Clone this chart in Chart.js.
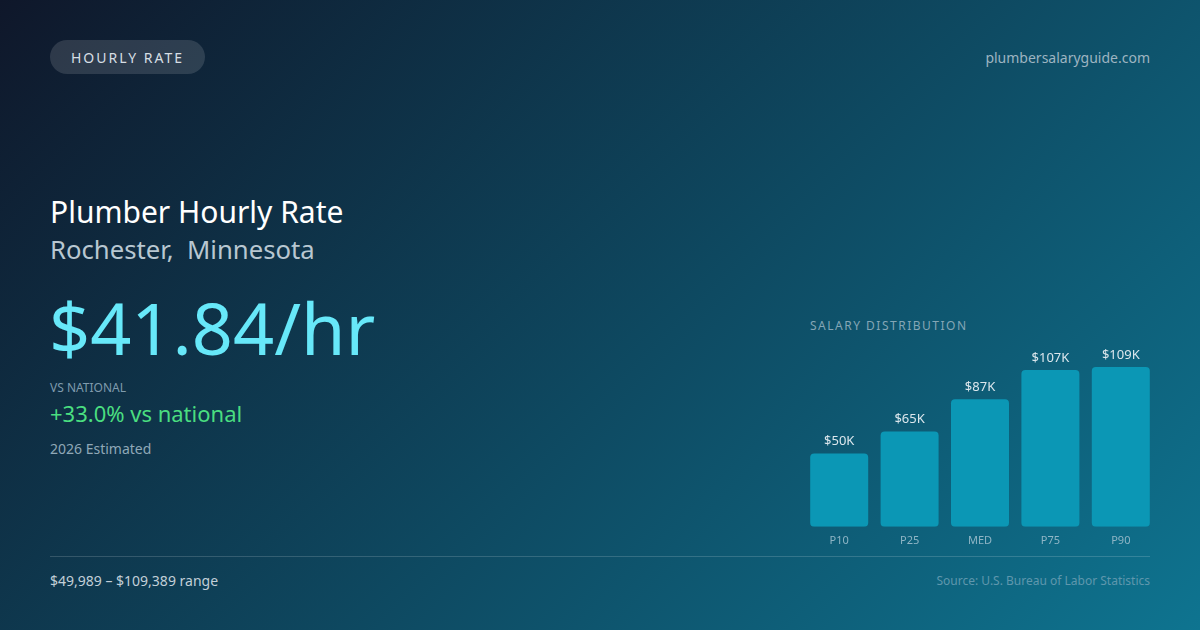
<!DOCTYPE html>
<html>
<head>
<meta charset="utf-8">
<script src="https://cdn.jsdelivr.net/npm/chart.js@4.4.1/dist/chart.umd.min.js"></script>
<style>
  html, body { margin: 0; padding: 0; }
  body {
    width: 1200px; height: 630px; overflow: hidden; position: relative;
    font-family: 'Noto Sans', sans-serif;
    background: linear-gradient(135deg, #0f172a 0%, #0e4a62 55%, #0e7490 100%);
  }
  .abs { position: absolute; line-height: 1; white-space: pre; }
  .pill {
    position: absolute; left: 50px; top: 40px; height: 34px; width: 155px;
    border-radius: 17px; background: rgba(255,255,255,0.13);
    color: #d6dee4; font-size: 14px; letter-spacing: 2px;
    display: flex; align-items: center; justify-content: center;
  }
  .divider { position: absolute; left: 50px; top: 556px; width: 1100px; height: 1px; background: rgba(255,255,255,0.16); }
  #chartWrap { position: absolute; left: 804px; top: 340px; width: 352px; height: 216px; }
</style>
</head>
<body>
<div class="pill">HOURLY RATE</div>
<div class="abs" style="right:50px; top:51px; font-size:14px; color:#9db4c1;">plumbersalaryguide.com</div>

<div class="abs" style="left:50px; top:197px; font-size:30px; color:#ffffff;">Plumber Hourly Rate</div>
<div class="abs" style="left:50px; top:237px; font-size:25.7px; color:#b8c7d1;">Rochester,  Minnesota</div>
<div class="abs" style="left:49px; top:291px; font-size:72px; color:#67e8f9;">$41.84/hr</div>
<div class="abs" style="left:50px; top:382px; font-size:12px; color:#7f9bad;">VS NATIONAL</div>
<div class="abs" style="left:50px; top:402px; font-size:22px; color:#4ade80;">+33.0% vs national</div>
<div class="abs" style="left:50px; top:442px; font-size:14px; color:#8fa8b7;">2026 Estimated</div>

<div class="abs" style="left:810px; top:320px; font-size:12px; letter-spacing:1.5px; color:#84a6b6;">SALARY DISTRIBUTION</div>
<div id="chartWrap"><canvas id="salaryChart"></canvas></div>

<div class="divider"></div>
<div class="abs" style="left:50px; top:574px; font-size:14px; color:#c2cfd8;">$49,989 – $109,389 range</div>
<div class="abs" style="right:50px; top:575px; font-size:12px; color:#5f97ad;">Source: U.S. Bureau of Labor Statistics</div>

<script>
// percentile labels and annual salary values (thousands of dollars)
const percentiles = ['P10', 'P25', 'MED', 'P75', 'P90'];
const salaryK = [50, 65, 87, 107, 109];
const valueLabels = ['$50K', '$65K', '$87K', '$107K', '$109K'];

// draws the value text above each bar
const barValueLabels = {
    id: 'barValueLabels',
    afterDatasetsDraw(chart) {
        const ctx = chart.ctx;
        const meta = chart.getDatasetMeta(0);
        ctx.save();
        ctx.font = "13px 'Noto Sans', sans-serif";
        ctx.fillStyle = '#dce7ed';
        ctx.textAlign = 'center';
        ctx.textBaseline = 'middle';
        meta.data.forEach((bar, i) => {
            ctx.fillText(valueLabels[i], bar.x, bar.y - 12);
        });
        ctx.restore();
    }
};

const ctx = document.getElementById('salaryChart').getContext('2d');
new Chart(ctx, {
    type: 'bar',
    data: {
        labels: percentiles,
        datasets: [{
            data: salaryK,
            backgroundColor: '#0b97b5',
            borderRadius: 4,
            borderSkipped: false,
            categoryPercentage: 1,
            barPercentage: 0.824
        }]
    },
    options: {
        responsive: true,
        maintainAspectRatio: false,
        animation: false,
        layout: { padding: { top: 27, bottom: 2, left: 0, right: 0 } },
        plugins: {
            legend: { display: false },
            tooltip: { enabled: false }
        },
        scales: {
            y: {
                display: false,
                min: 0,
                max: Math.max(...salaryK)
            },
            x: {
                grid: { display: false, drawTicks: false },
                border: { display: false },
                ticks: {
                    padding: 7,
                    color: '#8fb5c5',
                    font: { family: "'Noto Sans', sans-serif", size: 11 }
                }
            }
        }
    },
    plugins: [barValueLabels]
});
</script>
</body>
</html>
